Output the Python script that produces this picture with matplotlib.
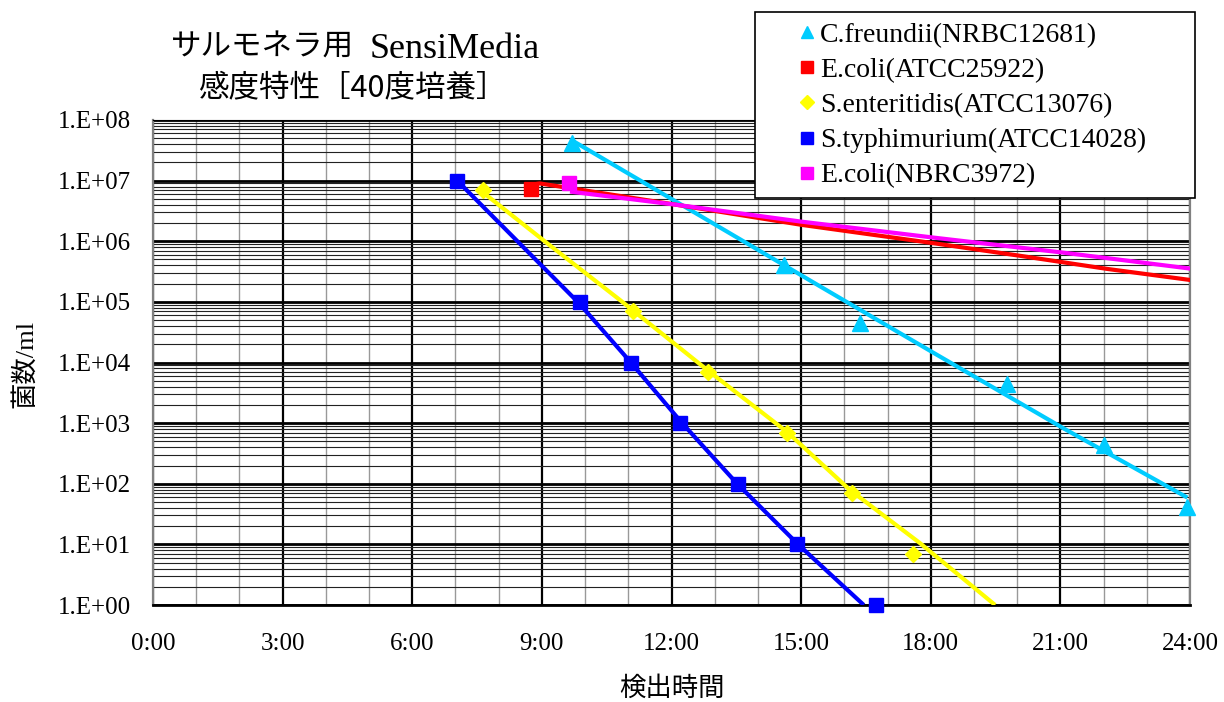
import numpy as np
import matplotlib
matplotlib.use('Agg')
import matplotlib.pyplot as plt
from matplotlib.lines import Line2D
from matplotlib.patches import Rectangle
from matplotlib.ticker import FuncFormatter, LogLocator, NullFormatter, MultipleLocator

SERIF = 'Liberation Serif'
JP = 'Noto Sans CJK JP'

# detection time (hours) vs cell count, markers
cf_t = [9.70, 14.60, 16.37, 19.77, 22.00, 23.94]
cf_n = [4.2e7, 4.1e5, 4.4e4, 4.4e3, 4.4e2, 4.2e1]
ec1_t = [8.75]
ec1_n = [7.2e6]
se_t = [7.64, 11.11, 12.85, 14.68, 16.18, 17.59]
se_n = [7e6, 7e4, 7e3, 7e2, 7e1, 7]
st_t = [7.04, 9.88, 11.06, 12.20, 13.54, 14.91, 16.74]
st_n = [1e7, 1e5, 1e4, 1e3, 1e2, 1e1, 1]
ec2_t = [9.63]
ec2_n = [9.2e6]

# trend lines
cf_line_t = [9.70, 12.04, 15.44, 18.06, 21.06, 23.94]
cf_line_n = [4.6e7, 4.8e6, 1.8e5, 1.45e4, 8.3e2, 5.9e1]
ec1_line_t = [8.75, 8.95, 12.11, 15.02, 18.06, 20.07, 22.08, 24.2]
ec1_line_n = [8.5e6, 9.0e6, 4.0e6, 1.86e6, 9.3e5, 5.75e5, 3.5e5, 2.2e5]
se_line_t = [7.59, 9.12, 10.81, 12.82, 14.68, 16.13, 17.75, 19.49]
se_line_n = [6.8e6, 9.3e5, 1.07e5, 7.6e3, 7.1e2, 79, 10.5, 1.0]
st_line_t = [7.04, 9.86, 11.06, 12.22, 13.52, 14.93, 16.45]
st_line_n = [1.0e7, 9.5e4, 1.0e4, 1.05e3, 1.0e2, 1.0e1, 1.0]
ec2_line_t = [9.65, 12.11, 15.02, 18.06, 21.06, 24.2]
ec2_line_n = [6.6e6, 4.0e6, 2.1e6, 1.15e6, 6.5e5, 3.4e5]

labels = ['C.freundii(NRBC12681)', 'E.coli(ATCC25922)', 'S.enteritidis(ATCC13076)',
          'S.typhimurium(ATCC14028)', 'E.coli(NBRC3972)']
colors = ['#00CCFF', '#FF0000', '#FFFF00', '#0000FF', '#FF00FF']
markers = ['^', 's', 'D', 's', 's']
msizes = [11, 10, 8, 10, 10]

series = [(cf_t, cf_n, cf_line_t, cf_line_n),
          (ec1_t, ec1_n, ec1_line_t, ec1_line_n),
          (se_t, se_n, se_line_t, se_line_n),
          (st_t, st_n, st_line_t, st_line_n),
          (ec2_t, ec2_n, ec2_line_t, ec2_line_n)]

fig = plt.figure(figsize=(12.24, 7.02), dpi=100)
ax = fig.add_axes([153/1224, 1-605/702, (1190-153)/1224, (605-120)/702])

for (t, n, lt, ln), c, m, ms in zip(series, colors, markers, msizes):
    ax.plot(lt, ln, color=c, lw=3.0, zorder=3, solid_capstyle='butt')
    ax.plot(t, n, ls='none', marker=m, ms=ms, color=c, zorder=4, clip_on=False)

ax.set_yscale('log')
ax.set_ylim(1, 1e8)
ax.set_xlim(0, 24)
ax.xaxis.set_major_locator(MultipleLocator(3))
ax.xaxis.set_minor_locator(MultipleLocator(1))
ax.yaxis.set_major_locator(LogLocator(base=10, numticks=20))
ax.yaxis.set_minor_locator(LogLocator(base=10, subs=np.arange(2, 10), numticks=100))
ax.yaxis.set_minor_formatter(NullFormatter())
ax.xaxis.set_major_formatter(FuncFormatter(lambda v, p: f'{int(round(v))}:00'))
ax.yaxis.set_major_formatter(FuncFormatter(lambda v, p: f'1.E+{int(round(np.log10(v))):02d}'))

ax.grid(which='major', axis='x', color='black', lw=1.6, zorder=1)
ax.grid(which='minor', axis='x', color='#999999', lw=1.0, zorder=1)
ax.grid(which='major', axis='y', color='black', lw=2.0, zorder=1)
ax.grid(which='minor', axis='y', color='#222222', lw=0.8, zorder=1)
ax.set_axisbelow(True)

ax.tick_params(which='both', length=0)
ax.tick_params(axis='y', pad=16, labelsize=18)
ax.tick_params(axis='x', pad=20, labelsize=18)
for lab in ax.get_xticklabels() + ax.get_yticklabels():
    lab.set_fontfamily(SERIF)
for s in ['left', 'right']:
    ax.spines[s].set_color('#808080')
    ax.spines[s].set_linewidth(1.6)
ax.spines['top'].set_color('black')
ax.spines['bottom'].set_color('black')
ax.spines['bottom'].set_linewidth(2)

# titles and axis labels
fig.text(354/1224, 1-47/702, 'サルモネラ用', ha='right', va='center',
         fontsize=22, family=[JP])
fig.text(370/1224, 1-49/702, 'SensiMedia', ha='left', va='center',
         fontsize=26, family=[SERIF])
fig.text(352/1224, 1-88/702, '感度特性［40度培養］', ha='center', va='center',
         fontsize=22, family=[JP])
fig.text(25/1224, 1-364/702, '菌数/ml', rotation=90, ha='center', va='center',
         fontsize=19, family=[SERIF, JP])
fig.text(672/1224, 1-688/702, '検出時間', ha='center', va='center',
         fontsize=19, family=[JP])

# legend box
box = Rectangle((755/1224, 1-198/702), 440/1224, 186/702, transform=fig.transFigure,
                facecolor='white', edgecolor='black', lw=1.2, zorder=2)
fig.add_artist(box)
handles = [Line2D([], [], ls='none', marker=m, ms=ms*0.85, color=c)
           for c, m, ms in zip(colors, markers, msizes)]
leg = fig.legend(handles, labels, loc='upper left', bbox_to_anchor=(778/1224, 1-3/702),
                 frameon=False, prop={'family': SERIF, 'size': 20},
                 handlelength=0.7, handletextpad=0.12, labelspacing=0.35, borderpad=0.2)
leg.set_zorder(3)

fig.savefig('out.png', dpi=100)
